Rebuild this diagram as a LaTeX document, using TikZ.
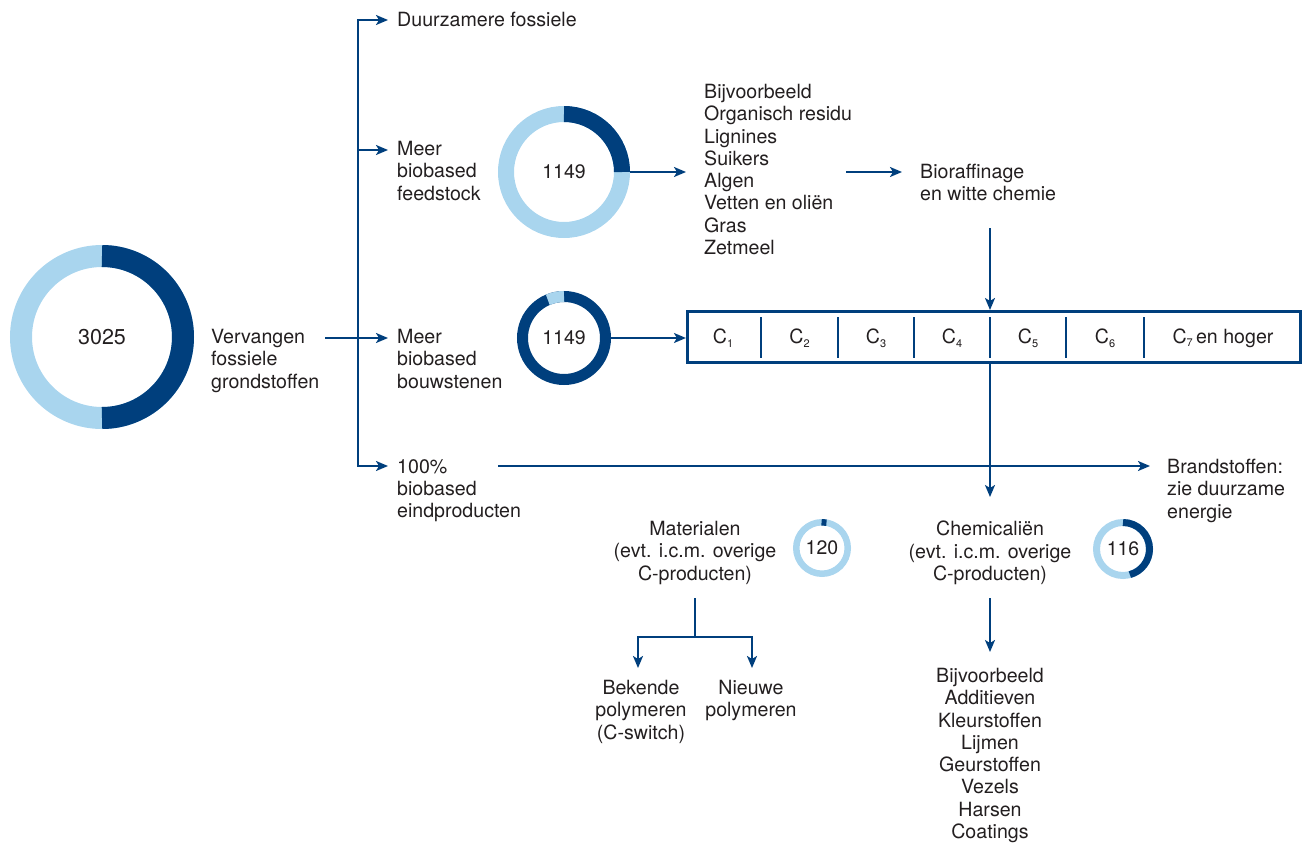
\documentclass[tikz,border=0pt]{standalone}
\usepackage{fontspec}
\setmainfont{TeX Gyre Heros}
\usetikzlibrary{arrows.meta}
\definecolor{navy}{HTML}{003F7D}
\definecolor{sky}{HTML}{A9D5EE}
\definecolor{ink}{HTML}{231F20}
\newcommand{\csub}[1]{\raisebox{-0.35ex}{\fontsize{11}{11}\selectfont #1}}
\begin{document}
\begin{tikzpicture}[x=1pt,y=-1pt,
  txt/.style={inner sep=0pt, text=ink, font=\fontsize{19.6}{22.3}\selectfont},
  ltxt/.style={txt, anchor=north west, align=left},
  ctxt/.style={txt, anchor=north, align=center},
  flow/.style={draw=navy, line width=2pt},
  arrowed/.style={-{Stealth[length=12pt,width=10pt,inset=3pt]}},
  both/.style={{Stealth[length=12pt,width=10pt,inset=3pt]}-{Stealth[length=12pt,width=10pt,inset=3pt]}},
  donut/.style={circle, inner sep=0pt, text=ink, font=\fontsize{19.5}{19.5}\selectfont},
  divider/.style={draw=navy, line width=1.4pt}
]
\useasboundingbox (0,0) rectangle (1309,843);

% ---- ring charts ----
\node[donut, minimum size=184pt, font=\fontsize{21.5}{21.5}\selectfont] (d1) at (102,337) {3025};
\draw[sky, line width=22pt] (d1) circle[radius=81];
\draw[navy, line width=22pt] (d1) ++(-90:81) arc[start angle=-90, end angle=90, radius=81];

\node[donut, minimum size=132pt] (d2) at (564,172) {1149};
\draw[sky, line width=16pt] (d2) circle[radius=58];
\draw[navy, line width=16pt] (d2) ++(-90:58) arc[start angle=-90, end angle=0, radius=58];

\node[donut, minimum size=94pt] (d3) at (564,338) {1149};
\draw[navy, line width=11pt] (d3) circle[radius=41.5];
\draw[sky, line width=11pt] (d3) ++(-113:41.5) arc[start angle=-113, end angle=-90, radius=41.5];

\node[donut, minimum size=58pt] (d4) at (822,548) {120};
\draw[sky, line width=6.5pt] (d4) circle[radius=25.75];
\draw[navy, line width=6.5pt] (d4) ++(-91:25.75) arc[start angle=-91, end angle=-80, radius=25.75];

\node[donut, minimum size=60pt] (d5) at (1123,549) {116};
\draw[sky, line width=7pt] (d5) circle[radius=26.5];
\draw[navy, line width=7pt] (d5) ++(-90:26.5) arc[start angle=-90, end angle=75, radius=26.5];

% ---- texts ----
\node[ltxt] (vervangen) at (211,329) {Vervangen\\fossiele\\grondstoffen};
\node[ltxt] (duurzaam) at (397,12) {Duurzamere fossiele};
\node[ltxt] (feedstock) at (397,141) {Meer\\biobased\\feedstock};
\node[ltxt] (bouwstenen) at (397,329) {Meer\\biobased\\bouwstenen};
\node[ltxt] (eind) at (397,459) {100\%\\biobased\\eindproducten};
\node[ltxt] (voorbeeld) at (704,84) {Bijvoorbeeld\\Organisch residu\\Lignines\\Suikers\\Algen\\Vetten en oliën\\Gras\\Zetmeel};
\node[ltxt] (bioraff) at (920,164) {Bioraffinage\\en witte chemie};
\node[ltxt] (brand) at (1167,459) {Brandstoffen:\\zie duurzame\\energie};
\node[ctxt] (materialen) at (695,521) {Materialen\\(evt. i.c.m. overige\\C-producten)};
\node[ctxt] (bekende) at (641,680) {Bekende\\polymeren\\(C-switch)};
\node[ctxt] (nieuwe) at (751,680) {Nieuwe\\polymeren};
\node[ctxt] (chem) at (990,521) {Chemicaliën\\(evt. i.c.m. overige\\C-producten)};
\node[ctxt] (chemlist) at (990,668) {Bijvoorbeeld\\Additieven\\Kleurstoffen\\Lijmen\\Geurstoffen\\Vezels\\Harsen\\Coatings};

% ---- carbon chain box ----
\node[draw=navy, line width=2.7pt, minimum width=613.4pt, minimum height=51.3pt, inner sep=0pt] (cbox) at (994,337) {};
\node[txt] (c1) at (723,338) {C\csub{1}};
\node[txt] (c2) at (799.5,338) {C\csub{2}};
\node[txt] (c3) at (876,338) {C\csub{3}};
\node[txt] (c4) at (952,338) {C\csub{4}};
\node[txt] (c5) at (1028,338) {C\csub{5}};
\node[txt] (c6) at (1105,338) {C\csub{6}};
\node[txt] (c7) at (1223,338) {C\csub{7}\,en hoger};
\foreach \dx in {761,838,914,990,1066,1144}
  \draw[divider] (\dx,317) -- (\dx,358);

% ---- connector points ----
\coordinate (vOut) at (325,338);
\coordinate (trTop) at (358,20);
\coordinate (trMid) at (358,150);
\coordinate (trBot) at (358,466);
\coordinate (aTop) at (388,20);
\coordinate (aMid) at (388,150);
\coordinate (aBouw) at (388,338);
\coordinate (aBot) at (388,466);
\coordinate (eOut) at (498,466);
\coordinate (bIn) at (1150,466);
\coordinate (lIn) at (686,172);
\coordinate (lOut) at (846,172);
\coordinate (rIn) at (902,172);
\coordinate (rOut) at (990,228);
\coordinate (cIn) at (990,497);
\coordinate (mOut) at (695,598);
\coordinate (mJoin) at (695,637);
\coordinate (bkIn) at (638,668);
\coordinate (nwIn) at (752,668);
\coordinate (chOut) at (990,598);
\coordinate (chIn) at (990,652);

% ---- connectors ----
\draw[flow, both, line join=miter] (aTop) -- (trTop) -- (trBot) -- (aBot);
\draw[flow, arrowed] (trMid) -- (aMid);
\draw[flow, arrowed] (vOut) -- (aBouw);
\draw[flow, arrowed] (d2.east) -- (lIn);
\draw[flow, arrowed] (lOut) -- (rIn);
\draw[flow, arrowed] (rOut) -- (rOut |- cbox.north);
\draw[flow, arrowed] (d3.east) -- (d3.east -| cbox.west);
\draw[flow, arrowed] (rOut |- cbox.south) -- (cIn);
\draw[flow, arrowed] (eOut) -- (bIn);
\draw[flow] (mOut) -- (mJoin);
\draw[flow, both, line join=miter] (bkIn) -- (bkIn |- mJoin) -- (nwIn |- mJoin) -- (nwIn);
\draw[flow, arrowed] (chOut) -- (chIn);
\end{tikzpicture}
\end{document}
